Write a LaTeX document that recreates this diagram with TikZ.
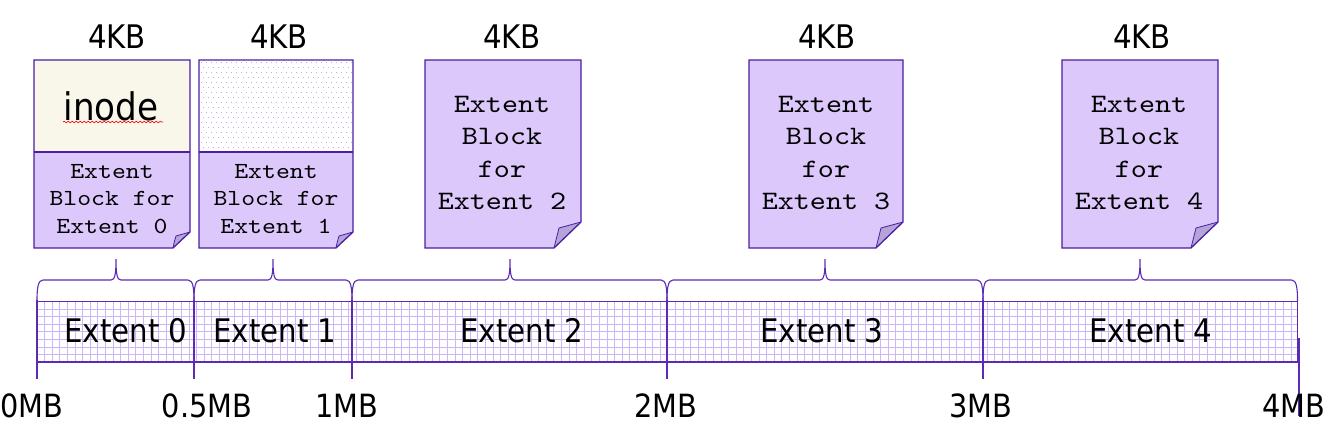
\documentclass[tikz,border=0pt]{standalone}
\usepackage{fontspec}
\newfontfamily\labfont[FakeStretch=0.9]{DejaVu Sans}
\newfontfamily\courfont[FakeStretch=1.15]{lmmono10-regular.otf}
\usetikzlibrary{decorations.pathmorphing}
\definecolor{ln}{HTML}{5B2BB5}
\definecolor{bord}{HTML}{4A1FA3}
\definecolor{blk}{HTML}{DCC8FB}
\definecolor{fold}{HTML}{B5A4D8}
\definecolor{cream}{HTML}{F9F6EA}
\definecolor{gridc}{HTML}{CDB6F6}
\definecolor{dotc}{HTML}{C2ABF0}
\tikzset{
  kb/.style={anchor=base, inner sep=0pt, font=\labfont\fontsize{32.5}{38}\selectfont},
  mb/.style={anchor=base, inner sep=0pt, font=\labfont\fontsize{32}{38}\selectfont},
  ext/.style={anchor=base, inner sep=0pt, font=\labfont\fontsize{32.5}{38}\selectfont},
  smalltxt/.style={inner sep=0pt, align=center, font=\courfont\fontsize{23}{27.8}\selectfont},
  bigtxt/.style={inner sep=0pt, align=center, font=\courfont\fontsize{26.6}{32.6}\selectfont},
  outline/.style={draw=bord, line width=1.3pt, line join=miter},
  tick/.style={draw=ln, line width=1.3pt},
  brace/.style={draw=ln, line width=1.1pt},
}
\begin{document}
\begin{tikzpicture}[x=1pt,y=-1pt]
\useasboundingbox (0,0) rectangle (1331,431);
% ---------- bar grid
\begin{scope}
  \clip (37,301.5) rectangle (1297.5,362);
  \foreach \i in {0,...,166} \draw[gridc, line width=1pt] ({37+7.6*\i},301.5) -- ({37+7.6*\i},362);
  \foreach \j in {1,...,7} \draw[gridc, line width=1pt] (37,{301.5+7.6*\j}) -- (1297.5,{301.5+7.6*\j});
\end{scope}
\draw[tick] (37,301.5) -- (1297.5,301.5);
\draw[tick] (37,362) -- (1297.5,362);
\draw[tick] (1297.5,301.5) -- (1297.5,362);
\foreach \x in {37,194,352,667,983} \draw[tick] (\x,300) -- (\x,379);
\draw[tick] (1299,338) -- (1299,416);
% ---------- braces
\foreach \a/\b/\m in {37/194/116, 194/352/273, 352/667/510, 667/983/825, 983/1297.5/1140}
  \draw[brace] (\a,301) .. controls (\a,288) and (\a+1,280) .. (\a+6,280) -- (\m-5,280)
     .. controls (\m-1,280) and (\m,274) .. (\m,259)
     .. controls (\m,274) and (\m+1,280) .. (\m+5,280) -- (\b-6,280)
     .. controls (\b-1,280) and (\b,288) .. (\b,301);
% ---------- blocks
% block 0
\fill[cream] (34,60) rectangle (190,152);
\fill[blk] (34,152) -- (190,152) -- (190,232) -- (173,248) -- (34,248) -- cycle;
\fill[fold] (173,248) .. controls (174,243) .. (176,236) -- (190,232) -- cycle;
\draw[outline] (34,60) -- (190,60) -- (190,232) -- (173,248) -- (34,248) -- cycle;
\draw[outline] (34,152) -- (190,152);
\draw[bord, line width=0.8pt] (173,248) .. controls (174,243) .. (176,236) -- (190,232);
% block 1
\fill[white] (199,60) rectangle (353,152);
\begin{scope}
  \clip (199,60) rectangle (353,152);
  \foreach \r in {0,...,18} {
    \pgfmathsetmacro{\off}{mod(\r,2)*2.5}
    \foreach \c in {0,...,31}
      \fill[dotc] ({200.5+\off+5*\c},{62+5*\r}) rectangle ++(1.1,1.1);
  }
\end{scope}
\fill[blk] (199,152) -- (353,152) -- (353,232) -- (336,248) -- (199,248) -- cycle;
\fill[fold] (336,248) .. controls (337,243) .. (339,236) -- (353,232) -- cycle;
\draw[outline] (199,60) -- (353,60) -- (353,232) -- (336,248) -- (199,248) -- cycle;
\draw[outline] (199,152) -- (353,152);
\draw[bord, line width=0.8pt] (336,248) .. controls (337,243) .. (339,236) -- (353,232);
% blocks 2-4
\foreach \xa/\xb in {425/581, 749/903, 1062/1218} {
  \fill[blk] (\xa,60) -- (\xb,60) -- (\xb,222) -- (\xb-27,248) -- (\xa,248) -- cycle;
  \fill[fold] (\xb-27,248) .. controls (\xb-25,240) .. (\xb-22,228) -- (\xb,222) -- cycle;
  \draw[outline] (\xa,60) -- (\xb,60) -- (\xb,222) -- (\xb-27,248) -- (\xa,248) -- cycle;
  \draw[bord, line width=0.8pt] (\xb-27,248) .. controls (\xb-25,240) .. (\xb-22,228) -- (\xb,222);
}
% ---------- texts in blocks
\node[inner sep=0pt, font=\labfont\fontsize{38}{42}\selectfont] (inode) at (111,106) {inode};
\draw[red, line width=0.6pt, decorate, decoration={snake, amplitude=0.8pt, segment length=4pt}] (63,122) -- (163,122);
\node[smalltxt] (eb0) at (112,199) {Extent\\Block for\\Extent 0};
\node[smalltxt] (eb1) at (276,199) {Extent\\Block for\\Extent 1};
\node[bigtxt] (eb2) at (502,153) {Extent\\Block\\for\\Extent 2};
\node[bigtxt] (eb3) at (826,153) {Extent\\Block\\for\\Extent 3};
\node[bigtxt] (eb4) at (1139,153) {Extent\\Block\\for\\Extent 4};
% ---------- 4KB labels
\node[kb] (kb0) at (117,48) {4KB};
\node[kb] (kb1) at (279,48) {4KB};
\node[kb] (kb2) at (512,48) {4KB};
\node[kb] (kb3) at (827,48) {4KB};
\node[kb] (kb4) at (1142,48) {4KB};
% ---------- extent labels
\node[ext] (e0) at (126,342) {Extent 0};
\node[ext] (e1) at (275,342) {Extent 1};
\node[ext] (e2) at (522,342) {Extent 2};
\node[ext] (e3) at (822,342) {Extent 3};
\node[ext] (e4) at (1151,342) {Extent 4};
% ---------- MB labels
\node[mb] (m0) at (32,417) {0MB};
\node[mb] (m05) at (207,417) {0.5MB};
\node[mb] (m1) at (347,417) {1MB};
\node[mb] (m2) at (666,417) {2MB};
\node[mb] (m3) at (981,417) {3MB};
\node[mb] (m4) at (1294,417) {4MB};
\end{tikzpicture}
\end{document}
